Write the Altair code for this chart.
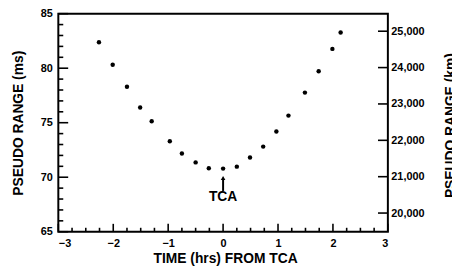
import altair as alt
import pandas as pd

# ---- data ----
hours = [-2.26, -2.01, -1.75, -1.51, -1.30, -0.97, -0.75, -0.50, -0.26, 0.0,
         0.25, 0.49, 0.73, 0.97, 1.19, 1.49, 1.74, 1.99, 2.14]
range_ms = [82.38, 80.32, 78.30, 76.40, 75.14, 73.30, 72.18, 71.36, 70.82, 70.79,
            70.97, 71.81, 72.81, 74.20, 75.65, 77.76, 79.72, 81.77, 83.28]

ms_major = [65, 70, 75, 80, 85]
ms_minor = [66, 67, 68, 69, 71, 72, 73, 74, 76, 77, 78, 79, 81, 82, 83, 84]
hr_major = [-3, -2, -1, 0, 1, 2, 3]
hr_minor = [-2.75, -2.5, -2.25, -1.75, -1.5, -1.25, -0.75, -0.5, -0.25,
            0.25, 0.5, 0.75, 1.25, 1.5, 1.75, 2.25, 2.5, 2.75]
km_ticks = [20000, 21000, 22000, 23000, 24000, 25000]
KM_PER_MS = 299.79

tca_label = ["TCA"]
tca_hour = [0.0]
tca_text_ms = [68.14]
tca_arrow_ms = [68.74, 69.8]
tca_head_ms = [69.93]

W, H = 334, 221
FONT = "Liberation Sans"
X0, X1, Y0, Y1 = -3.0, 3.0, 65.0, 85.0
HR_PER_PX = (X1 - X0) / W
MS_PER_PX = (Y1 - Y0) / H
TW = 1.6  # tick line width, px

xscale = alt.Scale(domain=[X0, X1], nice=False, zero=False)
yscale = alt.Scale(domain=[Y0, Y1], nice=False, zero=False)
kmscale = alt.Scale(domain=[Y0 * KM_PER_MS, Y1 * KM_PER_MS], nice=False, zero=False)

xaxis = alt.Axis(values=hr_major, title="TIME (hrs) FROM TCA", ticks=False,
                 domain=False, labelPadding=6, titleX=169, titleY=27,
                 titleBaseline="middle", titleAlign="center",
                 labelExpr="datum.value < 0 ? '\u2212' + abs(datum.value) : '' + datum.value")
yaxis = alt.Axis(orient="left", values=ms_major, title="PSEUDO RANGE (ms)",
                 ticks=False, domain=False, labelPadding=6, titleAngle=270,
                 titleX=-40, titleY=110.5, titleBaseline="middle",
                 titleAlign="center", labelExpr="'' + datum.value")


def X(field):
    return alt.X(field, scale=xscale, axis=xaxis, title="TIME (hrs) FROM TCA")


def Y(field):
    return alt.Y(field, scale=yscale, axis=yaxis, title="PSEUDO RANGE (ms)")


df = pd.DataFrame({"t": hours, "ms": range_ms})

points = alt.Chart(df).mark_circle(size=20, color="black", opacity=1).encode(
    x=X("t:Q"), y=Y("ms:Q"))

# inward tick marks as thin filled rectangles (data-unit extents)
rx1, rx2, ry1, ry2 = [], [], [], []
for v, L in [(v, 10) for v in ms_major] + [(v, 5) for v in ms_minor]:
    rx1.append(X0); rx2.append(X0 + L * HR_PER_PX)
    ry1.append(v - TW / 2 * MS_PER_PX); ry2.append(v + TW / 2 * MS_PER_PX)
for v, L in [(v, 8) for v in hr_major] + [(v, 4) for v in hr_minor]:
    rx1.append(v - TW / 2 * HR_PER_PX); rx2.append(v + TW / 2 * HR_PER_PX)
    ry1.append(Y0); ry2.append(Y0 + L * MS_PER_PX)
for k in km_ticks:
    m = k / KM_PER_MS
    rx1.append(X1 - 10 * HR_PER_PX); rx2.append(X1)
    ry1.append(m - TW / 2 * MS_PER_PX); ry2.append(m + TW / 2 * MS_PER_PX)

rects = pd.DataFrame({"t": rx1, "t2": rx2, "ms": ry1, "ms2": ry2})
ticks = alt.Chart(rects).mark_rect(color="black", opacity=1, strokeWidth=0).encode(
    x=X("t:Q"), x2="t2:Q", y=Y("ms:Q"), y2="ms2:Q")

arrow_rule = alt.Chart(pd.DataFrame({"t": tca_hour, "ms": [tca_arrow_ms[0]],
                                     "ms2": [tca_arrow_ms[1]]})).mark_rule(
    color="black", strokeWidth=2).encode(
    x=X("t:Q"), y=Y("ms:Q"), y2="ms2:Q")
arrow_head = alt.Chart(pd.DataFrame({"t": tca_hour, "ms": tca_head_ms})).mark_point(
    shape="triangle-up", filled=True, color="black", opacity=1, size=22).encode(
    x=X("t:Q"), y=Y("ms:Q"))
tca_text = alt.Chart(pd.DataFrame({"t": tca_hour, "ms": tca_text_ms, "s": tca_label})).mark_text(
    font=FONT, fontWeight="bold", fontSize=14, color="black", align="center",
    baseline="middle").encode(
    x=X("t:Q"), y=Y("ms:Q"), text="s:N")

km_axis_layer = alt.Chart(pd.DataFrame({"km": km_ticks})).mark_point(
    opacity=0, size=1).encode(
    y=alt.Y("km:Q", scale=kmscale, title="PSEUDO RANGE (km)",
            axis=alt.Axis(orient="right", values=km_ticks,
                          labelExpr="format(datum.value, ',')",
                          title="PSEUDO RANGE (km)", ticks=False, domain=False,
                          labelPadding=3, titleAngle=270, titleX=63.5, titleY=113,
                          titleBaseline="middle", titleAlign="center")))

inner = alt.layer(points, ticks, arrow_rule, arrow_head, tca_text)

chart = alt.layer(inner, km_axis_layer).resolve_scale(y="independent").properties(
    width=W, height=H, autosize="none",
    padding={"left": 51, "top": 4, "right": 65, "bottom": 35},
).configure_axis(
    grid=False, labelFont=FONT, labelFontSize=11, labelFontWeight="bold",
    labelColor="black", titleFont=FONT, titleFontSize=14, titleFontWeight="bold",
    titleColor="black",
).configure_view(stroke="black", strokeWidth=2)

chart.save("out.html", embed_options={"renderer": "svg", "actions": False})
